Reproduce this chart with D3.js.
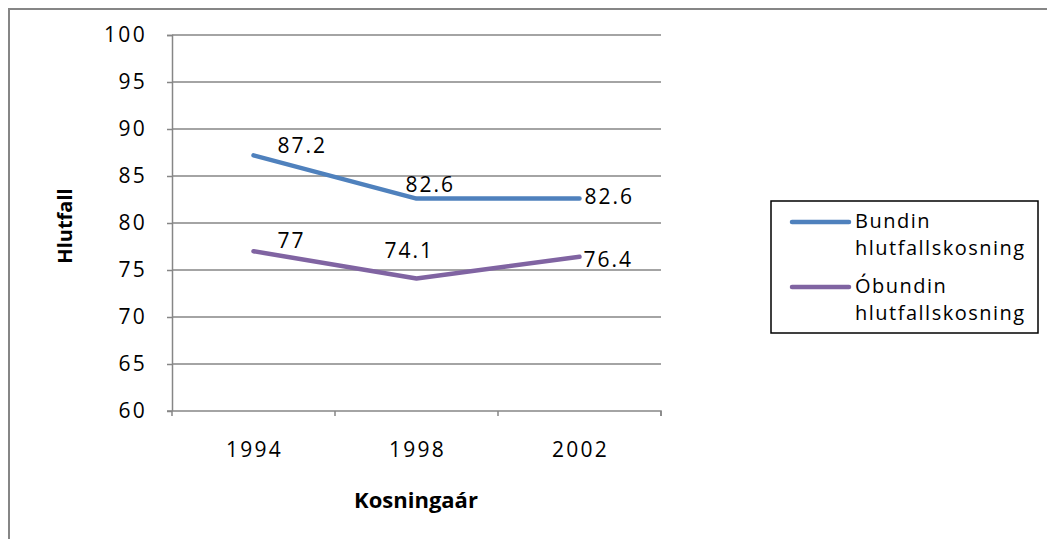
<!DOCTYPE html>
<html>
<head>
<meta charset="utf-8">
<script src="https://cdn.jsdelivr.net/npm/d3@7"></script>
<style>
  body { margin: 0; background: #fff; }
  svg text { font-family: "Open Sans", "DejaVu Sans", sans-serif; fill: #000; }
  .tick text { font-size: 21px; letter-spacing: 2.3px; }
  .leg text { font-size: 20px; letter-spacing: 1.5px; }
  .lbl { font-size: 21px; letter-spacing: 2px; }
</style>
</head>
<body>
<svg width="1047" height="539"></svg>
<script>
// chart values
var years = ["1994", "1998", "2002"];
var bundin = [87.2, 82.6, 82.6];
var obundin = [77, 74.1, 76.4];
var seriesNames = [["Bundin", "hlutfallskosning"], ["Óbundin", "hlutfallskosning"]];
var yTicks = [60, 65, 70, 75, 80, 85, 90, 95, 100];

var colors = ["#4f81bd", "#8064a2"];

// label offsets from each point (hand placed like the original)
var labelShift = [
  [[24, -2], [-11, -7], [5, 5]],
  [[24, -3], [-32, -20], [4, 10]]
];

var svg = d3.select("svg");

// outer frame runs off the right and bottom edge
svg.append("rect")
  .attr("x", 9).attr("y", 9)
  .attr("width", 1060).attr("height", 560)
  .attr("fill", "none")
  .attr("stroke", "#868686")
  .attr("stroke-width", 2);

var margin = {top: 35, left: 172},
    width = 661 - 172,
    height = 411 - 35;

var x = d3.scaleBand().domain(years).range([0, width]);
var y = d3.scaleLinear().domain([60, 100]).range([height, 0]);

var g = svg.append("g")
  .attr("transform", "translate(" + margin.left + "," + margin.top + ")");

// gridlines
g.selectAll(".grid")
  .data(yTicks.filter(function(d) { return d > 60; }))
  .enter().append("line")
  .attr("class", "grid")
  .attr("x1", 0).attr("x2", width)
  .attr("y1", function(d) { return y(d); })
  .attr("y2", function(d) { return y(d); })
  .attr("stroke", "#868686")
  .attr("stroke-width", 1.5);

var yAxis = g.append("g")
  .attr("class", "axis axis--y")
  .call(d3.axisLeft(y).tickValues(yTicks).tickSize(5).tickPadding(20));

var xAxis = g.append("g")
  .attr("class", "axis axis--x")
  .attr("transform", "translate(0," + height + ")")
  .call(d3.axisBottom(x).tickSize(0).tickPadding(31));

// x ticks sit on the band edges
xAxis.selectAll(".edge")
  .data(d3.range(years.length + 1))
  .enter().append("line")
  .attr("class", "edge")
  .attr("x1", function(i) { return i * x.bandwidth(); })
  .attr("x2", function(i) { return i * x.bandwidth(); })
  .attr("y1", 0).attr("y2", 5)
  .attr("stroke", "#868686")
  .attr("stroke-width", 1.5);

g.selectAll(".axis path, .axis line").attr("stroke", "#868686").attr("stroke-width", 1.5);
g.selectAll(".axis--y path").attr("d", "M-5,0.5H0.5V" + height);
g.selectAll(".axis--x path").attr("d", "M-5,0H" + width + "V5");
g.selectAll(".axis text").attr("fill", "#000");
g.selectAll(".axis--x .tick text").attr("dx", "1px");

var line = d3.line()
  .x(function(d, i) { return x(years[i]) + x.bandwidth() / 2; })
  .y(function(d) { return y(d); });

[bundin, obundin].forEach(function(s, k) {
  g.append("path")
    .datum(s)
    .attr("fill", "none")
    .attr("stroke", colors[k])
    .attr("stroke-width", 4.5)
    .attr("stroke-linecap", "round")
    .attr("stroke-linejoin", "round")
    .attr("d", line);

  g.selectAll(".lbl" + k)
    .data(s)
    .enter().append("text")
    .attr("class", "lbl")
    .attr("x", function(d, i) { return x(years[i]) + x.bandwidth() / 2 + labelShift[k][i][0]; })
    .attr("y", function(d, i) { return y(d) + labelShift[k][i][1]; })
    .text(function(d) { return d; });
});

// axis titles
svg.append("text")
  .attr("x", 416).attr("y", 508)
  .attr("text-anchor", "middle")
  .style("font-size", "22px")
  .style("font-weight", "bold")
  .text("Kosningaár");

svg.append("text")
  .attr("transform", "translate(72,226) rotate(-90)")
  .attr("text-anchor", "middle")
  .style("font-size", "20px")
  .style("font-weight", "bold")
  .text("Hlutfall");

// legend
var leg = svg.append("g").attr("class", "leg");
leg.append("rect")
  .attr("x", 771).attr("y", 201)
  .attr("width", 267).attr("height", 132)
  .attr("fill", "#fff")
  .attr("stroke", "#000")
  .attr("stroke-width", 1.5);

seriesNames.forEach(function(n, k) {
  var top = 222 + k * 65;
  leg.append("line")
    .attr("x1", 792).attr("x2", 849)
    .attr("y1", top).attr("y2", top)
    .attr("stroke", colors[k])
    .attr("stroke-width", 4.5)
    .attr("stroke-linecap", "round");
  leg.append("text").attr("x", 855).attr("y", top + 6).text(n[0]);
  leg.append("text").attr("x", 855).attr("y", top + 33).text(n[1]);
});
</script>
</body>
</html>
